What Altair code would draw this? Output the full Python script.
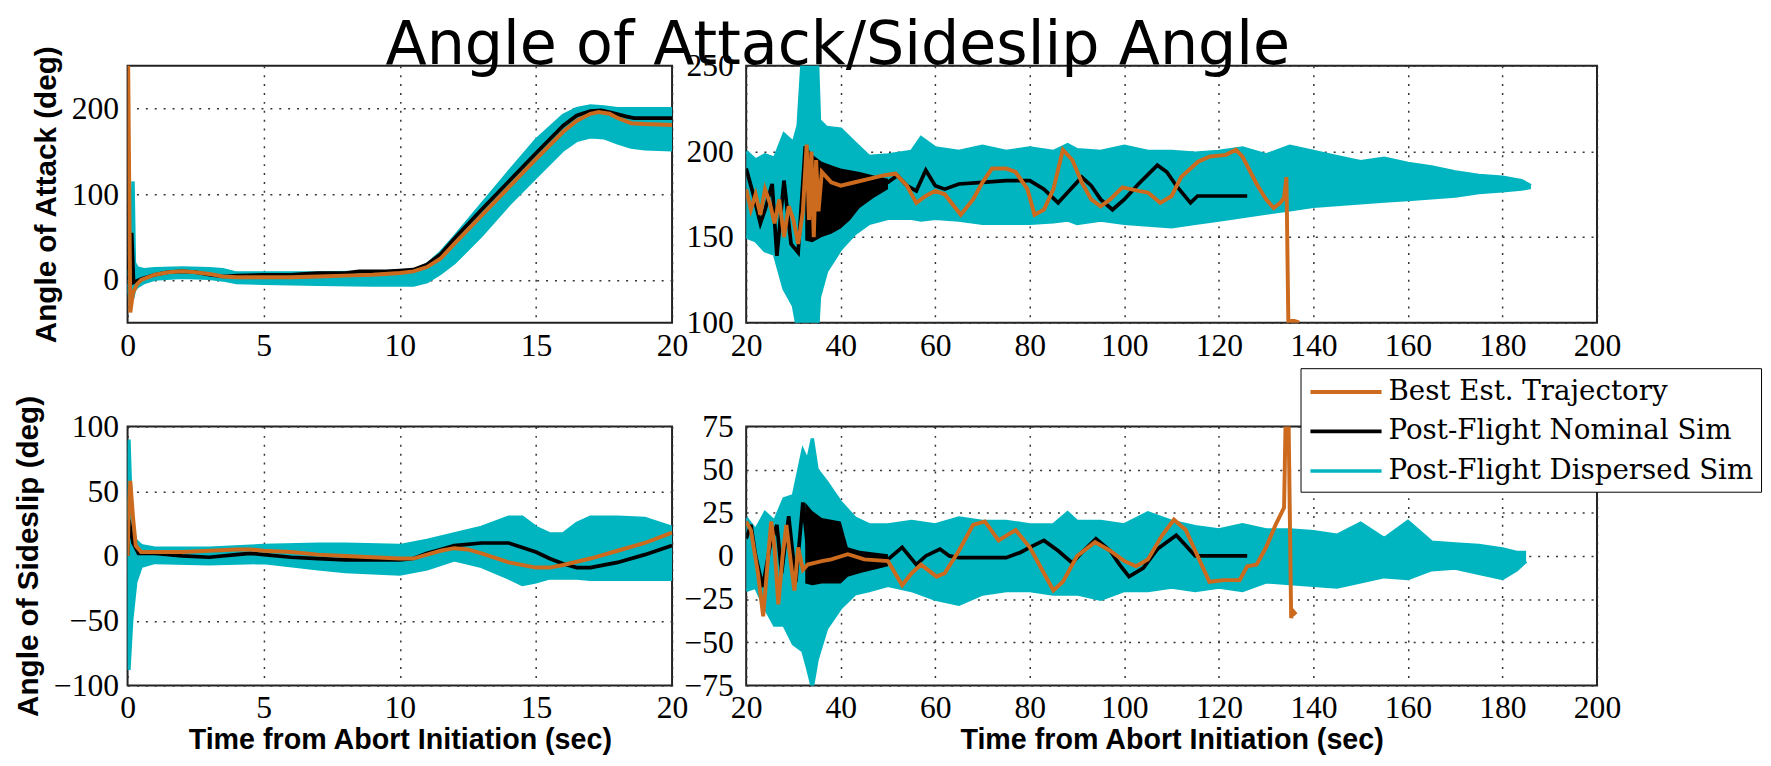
import altair as alt
import pandas as pd

ORANGE = "#CC6A1E"
BLACK = "#000000"
CYAN = "#00B5C0"
S_BEST = "Best Est. Trajectory"
S_NOM = "Post-Flight Nominal Sim"
S_DISP = "Post-Flight Dispersed Sim"
SERIES = [S_BEST, S_NOM, S_DISP]

# ---------------- Top-left: angle of attack, 0-20 s ----------------
TL_BEST_T = [0, 0.02, 0.1, 0.2, 0.35, 0.5, 1, 1.5, 2, 2.5, 3, 3.5, 4, 5, 6, 7, 8, 9, 10, 10.5, 11, 11.5, 12, 13, 14, 15, 16, 16.5, 17, 17.3, 17.7, 18, 18.5, 19, 20]
TL_BEST_V = [260, 260, -38, -15, -5, 0, 6, 9, 10, 9, 7, 4, 3, 3, 3, 4, 5, 6, 8, 10, 15, 25, 42, 75, 108, 141, 173, 186, 194, 196, 194, 189, 183, 182, 181]
TL_NOM_T = [0, 0.15, 0.22, 0.5, 1, 1.5, 2, 2.5, 3, 3.5, 4, 5, 6, 6.5, 7, 8, 8.5, 9.5, 10, 10.5, 11, 11.5, 12, 13, 14, 15, 16, 16.5, 17, 17.4, 17.8, 18.3, 18.6, 20]
TL_NOM_V = [0, 55, -3, 1, 6, 9, 10, 9, 6, 4, 5, 6, 6, 7, 8, 8, 10, 10, 11, 12, 18, 30, 48, 82, 115, 148, 180, 192, 197, 198, 195, 191, 189, 189]
TL_BAND_T = [0, 0.1, 0.2, 0.25, 0.35, 0.6, 1, 2, 3, 3.5, 4, 5, 7, 9, 10, 10.5, 11, 11.5, 12, 13, 14, 15, 16, 16.5, 17, 17.5, 18, 18.5, 19, 20]
TL_BAND_HI = [5, 15, 115, 20, 14, 12, 13, 14, 13, 12, 8, 8, 8, 9, 10, 11, 18, 32, 50, 88, 126, 163, 192, 200, 203, 202, 200, 200, 200, 200]
TL_BAND_LO = [-5, -25, -20, -12, -8, -3, 1, 3, 2, 0, -3, -4, -5, -6, -6, -6, -2, 8, 20, 52, 88, 120, 152, 163, 167, 166, 160, 155, 153, 152]

# ---------------- Top-right: angle of attack, 20-200 s ----------------
TR_BEST_T = [20, 21, 22, 23, 24, 25, 26, 27, 28, 29, 30, 31, 32, 32.8, 33.3, 33.8, 34.3, 34.8, 35.3, 36, 37, 38, 40, 43, 46, 49, 51.6, 54, 56, 58, 60, 62, 65.4, 68, 70, 72, 75, 77, 79.5, 81, 83, 85, 87, 89, 91, 93, 95, 97, 99.6, 103, 105, 107.6, 110, 112, 115.6, 118, 121.5, 123.6, 125, 128, 130, 131.6, 133, 133.8, 134.3, 134.7, 136, 137]
TR_BEST_V = [178, 166, 175, 163, 178, 170, 158, 172, 150, 168, 160, 146, 165, 204, 160, 200, 150, 195, 165, 188, 185, 182, 180, 182, 184, 186, 187, 180, 170, 174, 177, 175, 163, 172, 182, 190, 190, 188, 178, 163, 166, 178, 201, 195, 182, 172, 168, 172, 179, 177, 176, 170, 174, 185, 194, 197, 198, 201, 197, 181, 172, 167, 170, 173, 185, 101, 101, 100]
TR_NOM_T = [20, 21.5, 23, 24, 25.5, 26.5, 28, 29.5, 31, 32.5, 33, 35, 40, 45, 50, 52, 54, 56, 58, 60, 62, 65, 70, 75, 80, 83, 86, 88, 91, 93, 95, 97.5, 100, 103, 107, 109, 111, 114, 115.5, 126]
TR_NOM_V = [190, 175, 158, 166, 181, 139, 183, 146, 141, 203, 200, 170, 172, 178, 182, 186, 180, 177, 189, 180, 178, 181, 182, 183, 183, 178, 170, 176, 185, 180, 172, 166, 172, 181, 192, 188, 180, 170, 174, 174]
TR_NOMBAND_T = [32.5, 34, 36, 38, 40, 42, 44, 47, 50]
TR_NOMBAND_HI = [203, 198, 194, 192, 190, 189, 188, 186, 184]
TR_NOMBAND_LO = [148, 147, 150, 152, 155, 160, 167, 173, 178]
TR_BAND_T = [20, 22, 24, 26, 28, 30, 31, 32, 33, 34, 35, 35.5, 37, 40, 43, 46, 50, 55, 57, 60, 65, 70, 75, 80, 85, 88, 90, 95, 100, 105, 110, 115, 120, 125, 130, 135, 140, 145, 150, 155, 160, 165, 170, 175, 180, 184, 186]
TR_BAND_HI = [200, 195, 198, 196, 210, 205, 215, 260, 260, 260, 260, 218, 214, 213, 205, 197, 198, 200, 208, 202, 200, 203, 200, 202, 200, 204, 201, 200, 203, 200, 200, 199, 200, 202, 198, 203, 200, 197, 194, 196, 193, 191, 188, 186, 185, 183, 180]
TR_BAND_LO = [150, 148, 142, 140, 120, 110, 95, 90, 90, 90, 90, 115, 130, 143, 152, 158, 161, 161, 160, 161, 160, 158, 158, 158, 159, 160, 158, 160, 158, 157, 156, 158, 160, 162, 164, 166, 168, 169, 170, 171, 172, 173, 174, 176, 177, 178, 179]

# ---------------- Bottom-left: sideslip, 0-20 s ----------------
BL_BEST_T = [0, 0.05, 0.1, 0.2, 0.3, 0.5, 1, 2, 3, 4, 4.5, 5, 6, 7, 8, 9, 10, 10.5, 11, 11.5, 12, 12.5, 13, 14, 15, 15.5, 16, 17, 18, 19, 20]
BL_BEST_V = [0, 40, 58, 30, 8, 3, 3, 3, 4, 5, 5, 4, 3, 1, 0, -1, -2, -2, 1, 4, 6, 5, 2, -5, -9, -9, -7, -2, 4, 10, 18]
BL_NOM_T = [0, 0.05, 0.2, 0.4, 1, 2, 3, 4, 4.5, 5, 6, 7, 8, 9, 10, 10.5, 11, 11.5, 12, 13, 14, 15, 15.5, 16, 16.5, 17, 18, 19, 20]
BL_NOM_V = [0, 28, 10, 2, 2, 0, -1, 1, 2, 1, -1, -2, -3, -3, -3, -2, 2, 5, 8, 10, 10, 3, -2, -6, -9, -9, -5, 1, 8]
BL_BAND_T = [0, 0.05, 0.15, 0.3, 0.5, 1, 3, 5, 7, 8, 10, 11, 12, 13, 14, 14.5, 15, 15.5, 16, 16.5, 17, 18, 19, 20]
BL_BAND_HI = [0, 90, 25, 12, 8, 6, 6, 8, 9, 9, 8, 12, 17, 22, 30, 30, 22, 17, 17, 25, 30, 30, 29, 22]
BL_BAND_LO = [0, -88, -50, -20, -8, -5, -6, -5, -10, -12, -14, -10, -3, -8, -17, -22, -20, -17, -17, -17, -18, -18, -18, -18]

# ---------------- Bottom-right: sideslip, 20-200 s ----------------
BR_BEST_T = [20, 21, 22.5, 23.6, 24.5, 25.3, 26, 26.8, 27.7, 28.5, 29.5, 30.2, 31, 32, 33, 36, 38, 41.5, 45, 50, 53, 55, 57, 60.3, 62, 65, 68, 70.5, 73.4, 77, 80, 83, 85, 87, 90, 93.8, 97, 100, 102.5, 105, 108, 110.5, 113, 115, 118, 121, 124.4, 126, 128, 130, 132, 133.8, 134.2, 134.7, 135.3, 135.7, 136.3]
BR_BEST_V = [20, 15, -10, -35, -5, 20, 5, -28, 0, 18, -5, -20, 5, -8, -5, -3, -2, 1, -2, -3, -17, -10, -5, -12, -10, 3, 18, 20, 9, 15, 5, -10, -20, -15, 0, 8, 3, -3, -6, -2, 12, 21, 15, 3, -15, -14, -14, -6, -5, 5, 18, 28, 90, 90, -36, -32, -34]
BR_NOM_T = [20, 21, 22, 23.5, 25, 26.5, 27.5, 29, 30.5, 32, 33, 35, 40, 45, 50, 53, 56, 58, 61, 63, 65, 70, 75, 78, 80, 83, 86, 89, 91, 94, 97, 99, 101, 104, 107, 111, 113, 115, 126]
BR_NOM_V = [10, 18, 0, -18, 5, 18, -10, 23, -15, 31, 5, 3, 2, -2, -2, 5, -5, 0, 4, 0, -1, -1, -1, 2, 5, 9, 3, -4, 2, 10, 3, -5, -12, -7, 4, 12, 6, 0, 0]
BR_NOMBAND_T = [32.5, 34, 36, 38, 40, 41.5, 44, 47, 50]
BR_NOMBAND_HI = [31, 26, 22, 21, 20, 5, 3, 2, 1]
BR_NOMBAND_LO = [-16, -17, -16, -16, -16, -12, -10, -8, -6]
BR_BAND_T = [20, 22, 24, 26, 28, 30, 32, 33, 34, 35, 37, 40, 43, 46, 50, 55, 60, 65, 70, 75, 80, 85, 88, 90, 95, 100, 105, 110, 115, 120, 125, 130, 135, 140, 145, 150, 155, 160, 165, 170, 175, 180, 183, 185]
BR_BAND_HI = [22, 15, 25, 20, 33, 35, 61, 55, 68, 50, 43, 31, 22, 18, 18, 20, 18, 22, 20, 20, 18, 18, 25, 20, 20, 18, 25, 20, 17, 15, 18, 15, 15, 14, 12, 19, 10, 20, 8, 7, 6, 4, 2, 2]
BR_BAND_LO = [-20, -18, -30, -40, -40, -51, -55, -65, -76, -60, -42, -30, -22, -20, -17, -20, -25, -28, -22, -20, -20, -22, -22, -22, -25, -20, -20, -18, -20, -18, -20, -15, -16, -17, -18, -15, -12, -13, -8, -7, -10, -13, -8, -3]

X_LEFT_TICKS = [0, 5, 10, 15, 20]
X_RIGHT_TICKS = [20, 40, 60, 80, 100, 120, 140, 160, 180, 200]
Y_TL_TICKS = [0, 100, 200]
Y_TR_TICKS = [100, 150, 200, 250]
Y_BL_TICKS = [-100, -50, 0, 50, 100]
Y_BR_TICKS = [-75, -50, -25, 0, 25, 50, 75]

LABEL_FONT = "Liberation Serif"
TITLE_FONT = "Liberation Sans"


def panel(best_t, best_v, nom_t, nom_v, band_t, band_lo, band_hi,
          xdom, ydom, xticks, yticks, w, h, ytitle, xtitle, ylabpad,
          nb_t=None, nb_lo=None, nb_hi=None, show_legend=False):
    xaxis = alt.Axis(values=xticks, title=xtitle, grid=True, labelOverlap=False,
                     labelFlush=False, labelPadding=8, titlePadding=2, titleFontSize=29)
    yaxis = alt.Axis(values=yticks, title=ytitle, grid=True, labelOverlap=False,
                     labelFlush=False, labelPadding=ylabpad, titlePadding=10, titleFontSize=30)
    xs = alt.Scale(domain=xdom, nice=False, zero=False)
    ys = alt.Scale(domain=ydom, nice=False, zero=False)

    if show_legend:
        leg = alt.Legend(orient="none", legendX=561, legendY=-59, title=None,
                         symbolType="M-2.4,0H2.4", symbolSize=900, symbolOffset=22,
                         labelFont="DejaVu Serif", labelFontSize=28,
                         labelColor="black", labelLimit=600, labelOffset=26,
                         strokeColor="black", fillColor="white",
                         padding=7, rowPadding=9)
    else:
        leg = None
    color = alt.Color("series:N", scale=alt.Scale(domain=SERIES, range=[ORANGE, BLACK, CYAN]), legend=leg)
    swidth = alt.StrokeWidth("series:N", scale=alt.Scale(domain=SERIES, range=[4, 3.5, 1.5]), legend=leg)

    band = pd.DataFrame({"t": band_t, "lo": band_lo, "hi": band_hi})
    edges = pd.concat([
        pd.DataFrame({"t": band_t, "v": band_hi, "series": S_DISP, "edge": "hi"}),
        pd.DataFrame({"t": band_t, "v": band_lo, "series": S_DISP, "edge": "lo"}),
    ])
    nom = pd.DataFrame({"t": nom_t, "v": nom_v, "series": S_NOM, "edge": "n"})
    best = pd.DataFrame({"t": best_t, "v": best_v, "series": S_BEST, "edge": "b"})

    X = alt.X("t:Q", scale=xs, axis=xaxis)
    layers = [
        alt.Chart(band).mark_area(color=CYAN, clip=True, opacity=1).encode(
            x=X, y=alt.Y("lo:Q", scale=ys, axis=yaxis), y2="hi:Q"),
        alt.Chart(edges).mark_line(clip=True).encode(
            x=X, y=alt.Y("v:Q", scale=ys, axis=yaxis),
            color=color, strokeWidth=swidth, detail="edge:N"),
    ]
    if nb_t is not None:
        nband = pd.DataFrame({"t": nb_t, "lo": nb_lo, "hi": nb_hi})
        layers.append(alt.Chart(nband).mark_area(color=BLACK, clip=True).encode(
            x=X, y=alt.Y("lo:Q", scale=ys, axis=yaxis), y2="hi:Q"))
    layers.append(alt.Chart(nom).mark_line(clip=True).encode(
        x=X, y=alt.Y("v:Q", scale=ys, axis=yaxis), color=color, strokeWidth=swidth))
    layers.append(alt.Chart(best).mark_line(clip=True).encode(
        x=X, y=alt.Y("v:Q", scale=ys, axis=yaxis), color=color, strokeWidth=swidth))
    return alt.layer(*layers).properties(width=w, height=h)


tl = panel(TL_BEST_T, TL_BEST_V, TL_NOM_T, TL_NOM_V, TL_BAND_T, TL_BAND_LO, TL_BAND_HI,
           [0, 20], [-50, 250], X_LEFT_TICKS, Y_TL_TICKS, 551, 260,
           "Angle of Attack (deg)", None, 9)
tr = panel(TR_BEST_T, TR_BEST_V, TR_NOM_T, TR_NOM_V, TR_BAND_T, TR_BAND_LO, TR_BAND_HI,
           [20, 200], [100, 250], X_RIGHT_TICKS, Y_TR_TICKS, 861, 260,
           None, None, 13, TR_NOMBAND_T, TR_NOMBAND_LO, TR_NOMBAND_HI)
bl = panel(BL_BEST_T, BL_BEST_V, BL_NOM_T, BL_NOM_V, BL_BAND_T, BL_BAND_LO, BL_BAND_HI,
           [0, 20], [-100, 100], X_LEFT_TICKS, Y_BL_TICKS, 551, 262,
           "Angle of Sideslip (deg)", "Time from Abort Initiation (sec)", 9)
br = panel(BR_BEST_T, BR_BEST_V, BR_NOM_T, BR_NOM_V, BR_BAND_T, BR_BAND_LO, BR_BAND_HI,
           [20, 200], [-75, 75], X_RIGHT_TICKS, Y_BR_TICKS, 861, 262,
           None, "Time from Abort Initiation (sec)", 13, BR_NOMBAND_T, BR_NOMBAND_LO, BR_NOMBAND_HI,
           show_legend=True)

chart = alt.concat(
    tl, tr, bl, br, columns=2, spacing={"row": 105, "column": 75}, bounds="flush"
).resolve_scale(
    color="independent", strokeWidth="independent"
).properties(
    title=alt.TitleParams("Angle of Attack/Sideslip Angle", font="DejaVu Sans", fontSize=61,
                          fontWeight="normal", color="black", anchor="start", dx=377, offset=-33),
    padding={"left": 4, "top": 3, "right": 0, "bottom": 0},
).configure_view(
    stroke="#222222", strokeWidth=2
).configure_axis(
    grid=True, gridColor="#333333", gridDash=[2, 7], gridWidth=1.5, gridOpacity=1,
    domain=False, ticks=False,
    labelFont=LABEL_FONT, labelFontSize=32, labelColor="black",
    titleFont=TITLE_FONT, titleFontWeight="bold", titleColor="black",
)

chart.save("out.html", embed_options={"renderer": "svg", "actions": False})
